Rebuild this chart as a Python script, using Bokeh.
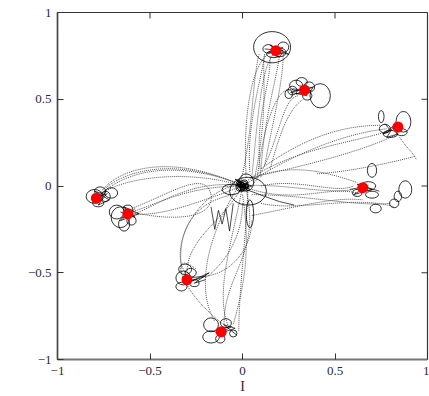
from bokeh.plotting import figure
from bokeh.models import FixedTicker, Label, Range1d
from bokeh.embed import file_html
from bokeh.resources import INLINE

# Constellation points (red)
const_I = [0.18, 0.335, 0.84, 0.65, -0.79, -0.62, -0.30, -0.115]
const_Q = [0.78, 0.553, 0.34, -0.01, -0.07, -0.16, -0.54, -0.84]

# Dotted transition trajectories (cubic Bezier: start, control0, control1, end)
traj_x0 = [0.02, 0.05, 0.10, -0.02, 0.10, 0.05, 0.08, 0.15,
           0.00, 0.05, 0.10, 0.85, 0.93,
           0.00, 0.05, 0.10, 0.05, 0.05,
           0.00, 0.00, 0.00, 0.00, -0.60, -0.17,
           0.00, -0.05, 0.00, -0.20,
           0.00, 0.00, -0.02, 0.03, -0.10, 0.06, 0.02,
           0.04, 0.12, 0.00, 0.05, 0.10, 0.00, 0.00, -0.05, 0.02]
traj_y0 = [0.05, 0.05, 0.10, -0.02, 0.05, 0.00, 0.05, 0.10,
           0.00, 0.05, 0.10, 0.28, 0.17,
           0.00, -0.02, 0.00, -0.05, -0.17,
           0.00, 0.00, 0.00, 0.00, -0.15, -0.05,
           0.00, -0.05, -0.10, -0.52,
           0.00, -0.05, 0.00, 0.00, -0.80, 0.02, 0.00,
           0.08, 0.12, 0.02, 0.05, -0.10, 0.00, 0.00, 0.00, -0.02]
traj_cx0 = [0.00, 0.08, 0.12, 0.06, 0.06, 0.20, 0.12, 0.20,
            0.30, 0.30, 0.30, 0.90, 0.75,
            0.20, 0.30, 0.30, 0.35, 0.30,
            -0.30, -0.30, -0.25, -0.30, -0.40, -0.20,
            -0.10, -0.30, 0.00, -0.05,
            -0.05, 0.05, -0.20, 0.02, -0.35, 0.15, -0.35,
            0.02, 0.16, 0.25, 0.35, 0.30, -0.30, -0.40, -0.25, 0.10]
traj_cy0 = [0.40, 0.35, 0.40, 0.30, 0.40, 0.20, 0.40, 0.30,
            0.20, 0.22, 0.25, 0.20, 0.12,
            0.02, -0.10, 0.05, -0.05, -0.12,
            0.15, 0.10, -0.10, 0.00, -0.20, 0.10,
            -0.20, -0.10, -0.30, -0.50,
            -0.30, -0.40, -0.30, -0.30, -0.60, 0.45, 0.15,
            0.35, 0.35, 0.15, 0.12, -0.15, 0.05, 0.20, -0.05, -0.40]
traj_cx1 = [0.05, 0.10, 0.18, 0.05, 0.15, 0.20, 0.20, 0.25,
            0.55, 0.60, 0.50, 0.92, 0.55,
            0.45, 0.45, 0.50, 0.60, 0.50,
            -0.60, -0.65, -0.45, -0.45, -0.15, -0.40,
            -0.30, -0.35, -0.10, 0.05,
            -0.15, 0.00, -0.25, -0.02, -0.40, 0.10, -0.60,
            0.10, 0.22, 0.45, 0.65, 0.60, -0.50, -0.70, -0.40, -0.10]
traj_cy1 = [0.70, 0.70, 0.60, 0.60, 0.55, 0.50, 0.60, 0.45,
            0.30, 0.25, 0.35, 0.20, 0.08,
            -0.05, 0.00, -0.05, -0.12, -0.06,
            0.12, 0.05, -0.18, -0.10, -0.20, -0.05,
            -0.30, -0.30, -0.45, -0.35,
            -0.60, -0.60, -0.60, -0.60, -0.35, 0.70, 0.10,
            0.60, 0.60, 0.08, 0.20, -0.05, -0.15, 0.10, -0.35, -0.50]
traj_x1 = [0.14, 0.17, 0.20, 0.09, 0.15, 0.30, 0.28, 0.33,
           0.78, 0.80, 0.75, 0.94, 0.40,
           0.60, 0.62, 0.60, 0.80, 0.65,
           -0.75, -0.77, -0.60, -0.60, -0.17, -0.60,
           -0.30, -0.33, -0.20, 0.05,
           -0.08, -0.05, -0.15, -0.02, -0.25, 0.12, -0.76,
           0.12, 0.22, 0.62, 0.84, 0.82, -0.62, -0.78, -0.31, -0.10]
traj_y1 = [0.76, 0.76, 0.75, 0.76, 0.75, 0.52, 0.55, 0.50,
           0.33, 0.32, 0.35, 0.15, 0.07,
           -0.02, -0.04, 0.00, -0.10, -0.08,
           -0.02, -0.05, -0.16, -0.15, -0.05, -0.13,
           -0.50, -0.48, -0.53, -0.20,
           -0.80, -0.80, -0.78, -0.84, -0.48, 0.76, -0.04,
           0.76, 0.76, 0.02, 0.30, -0.12, -0.17, -0.06, -0.50, -0.80]

# Solid loops (ellipses) around the symbols and the origin
loop_x = [0.16, 0.14, 0.20, 0.22, 0.17,
          0.42, 0.29, 0.32, 0.36, 0.35, 0.27, 0.25,
          0.87, 0.75, 0.77, 0.80, 0.86,
          0.70, 0.70, 0.72, 0.88, 0.84, 0.82, 0.62, 0.68,
          -0.80, -0.77, -0.71, -0.78, -0.74,
          -0.66, -0.68, -0.64, -0.60, -0.62,
          -0.32, -0.33, -0.28, -0.31, -0.26,
          -0.17, -0.17, -0.12, -0.09, -0.05,
          0.00, 0.01, -0.01, 0.02, 0.03, 0.04, -0.06,
          0.00, 0.01, -0.01, 0.00, 0.02, -0.02,
          -0.005, 0.005, 0.00, -0.01, 0.01]
loop_y = [0.80, 0.79, 0.77, 0.80, 0.76,
          0.52, 0.58, 0.60, 0.57, 0.52, 0.55, 0.53,
          0.37, 0.40, 0.33, 0.30, 0.31,
          0.09, -0.05, -0.13, -0.02, -0.06, -0.10, -0.04, 0.00,
          -0.06, -0.03, -0.04, -0.10, -0.06,
          -0.18, -0.15, -0.22, -0.20, -0.13,
          -0.53, -0.58, -0.50, -0.48, -0.56,
          -0.80, -0.87, -0.88, -0.79, -0.85,
          0.00, 0.01, -0.01, 0.02, -0.03, -0.16, -0.02,
          0.00, 0.00, 0.01, -0.01, 0.00, 0.02,
          0.005, -0.005, 0.01, 0.00, 0.00]
loop_w = [0.20, 0.06, 0.07, 0.06, 0.08,
          0.11, 0.07, 0.06, 0.06, 0.05, 0.05, 0.04,
          0.08, 0.03, 0.06, 0.08, 0.06,
          0.05, 0.07, 0.06, 0.07, 0.04, 0.05, 0.05, 0.08,
          0.09, 0.06, 0.07, 0.06, 0.05,
          0.10, 0.08, 0.06, 0.05, 0.05,
          0.08, 0.06, 0.06, 0.07, 0.05,
          0.08, 0.09, 0.05, 0.06, 0.04,
          0.06, 0.04, 0.05, 0.08, 0.20, 0.04, 0.10,
          0.03, 0.02, 0.035, 0.025, 0.03, 0.02,
          0.015, 0.02, 0.012, 0.025, 0.018]
loop_h = [0.18, 0.05, 0.05, 0.06, 0.04,
          0.14, 0.06, 0.05, 0.06, 0.05, 0.05, 0.05,
          0.12, 0.07, 0.05, 0.04, 0.04,
          0.08, 0.04, 0.05, 0.10, 0.06, 0.05, 0.04, 0.05,
          0.08, 0.05, 0.06, 0.04, 0.06,
          0.12, 0.08, 0.08, 0.05, 0.04,
          0.08, 0.05, 0.05, 0.06, 0.04,
          0.08, 0.07, 0.05, 0.05, 0.04,
          0.06, 0.05, 0.04, 0.10, 0.16, 0.16, 0.06,
          0.04, 0.03, 0.025, 0.035, 0.02, 0.03,
          0.02, 0.015, 0.03, 0.02, 0.025]

# Solid scribbles through the cluster centres and centre region
scrib_x = [[0.12, 0.22, 0.15, 0.25, 0.14, 0.22],
           [0.27, 0.37, 0.29, 0.38, 0.26, 0.35],
           [0.77, 0.80, 0.76, 0.82, 0.78, 0.84],
           [0.58, 0.68, 0.60, 0.70, 0.62, 0.74],
           [-0.82, -0.74, -0.80, -0.72, -0.78, -0.73],
           [-0.66, -0.58, -0.64, -0.56, -0.66, -0.58],
           [-0.30, -0.20, -0.28, -0.18, -0.26, -0.20],
           [-0.14, -0.06, -0.12, -0.04, -0.10, -0.03],
           [-0.04, 0.04, -0.03, 0.05, -0.02, 0.03, -0.04],
           [-0.17, -0.15, -0.13, -0.11, -0.09, -0.07, -0.05],
           [0.02, 0.12, 0.20, 0.28],
           [0.00, -0.04, 0.03, 0.02]]
scrib_y = [[0.79, 0.78, 0.81, 0.76, 0.77, 0.80],
           [0.56, 0.55, 0.53, 0.57, 0.54, 0.52],
           [0.36, 0.32, 0.30, 0.35, 0.28, 0.30],
           [-0.02, 0.00, -0.05, -0.02, 0.01, -0.03],
           [-0.08, -0.05, -0.03, -0.08, -0.11, -0.04],
           [-0.15, -0.18, -0.12, -0.16, -0.20, -0.13],
           [-0.53, -0.52, -0.55, -0.50, -0.56, -0.54],
           [-0.83, -0.81, -0.85, -0.82, -0.80, -0.86],
           [0.01, -0.02, 0.03, 0.00, -0.03, 0.02, 0.00],
           [-0.12, -0.25, -0.14, -0.22, -0.13, -0.26, -0.10],
           [-0.02, -0.06, -0.09, -0.11],
           [0.02, 0.04, -0.03, -0.02]]

tick_vals = [-1, -0.5, 0, 0.5, 1]
tick_text = {-1: "\u22121", -0.5: "\u22120.5", 0: "0", 0.5: "0.5", 1: "1"}

FRAME_W, FRAME_H = 370, 347
TICK_PX = 6

p = figure(frame_width=FRAME_W, frame_height=FRAME_H, output_backend="svg", toolbar_location=None,
           x_range=Range1d(-1, 1), y_range=Range1d(-1, 1),
           min_border_left=57, min_border_right=2, min_border_top=12, min_border_bottom=37)
p.background_fill_color = "white"
p.border_fill_color = "white"
p.grid.visible = False
p.outline_line_color = "#333333"
p.outline_line_width = 1.2

FONT = "Liberation Serif"
LBL = "#2a2a3a"
for ax in [p.xaxis[0], p.yaxis[0]]:
    ax.ticker = FixedTicker(ticks=tick_vals)
    ax.major_label_overrides = tick_text
    ax.major_tick_in = TICK_PX
    ax.major_tick_out = 0
    ax.minor_tick_line_color = None
    ax.axis_line_color = "#444444"
    ax.axis_line_width = 1.5
    ax.major_tick_line_color = "#333333"
    ax.major_label_text_font = FONT
    ax.major_label_text_font_size = "13px"
    ax.major_label_text_color = LBL
p.xaxis.axis_line_color = "#777777"
p.xaxis.axis_line_width = 2
p.xaxis.major_label_standoff = 7
p.yaxis.major_label_standoff = 6
p.xaxis.axis_label = "I"
p.xaxis.axis_label_text_font = FONT
p.xaxis.axis_label_text_font_style = "normal"
p.xaxis.axis_label_text_font_size = "14px"
p.xaxis.axis_label_text_color = LBL
p.xaxis.axis_label_standoff = 1

# mirrored inward ticks on the top and right edges of the frame
dy = TICK_PX * 2.0 / FRAME_H
dx = TICK_PX * 2.0 / FRAME_W
inner = tick_vals[1:-1]
p.segment(x0=inner, y0=[1] * len(inner), x1=inner, y1=[1 - dy] * len(inner),
          line_color="#333333", line_width=1)
p.segment(x0=[1] * len(inner), y0=inner, x1=[1 - dx] * len(inner), y1=inner,
          line_color="#333333", line_width=1)

p.add_layout(Label(x=-1.205, y=0, text="Q", text_font=FONT, text_font_size="14px",
                   text_color=LBL, text_align="center", text_baseline="middle"))

p.bezier(x0=traj_x0, y0=traj_y0, x1=traj_x1, y1=traj_y1,
         cx0=traj_cx0, cy0=traj_cy0, cx1=traj_cx1, cy1=traj_cy1,
         line_color="#555555", line_width=1, line_dash="1 1")
p.ellipse(x=loop_x, y=loop_y, width=loop_w, height=loop_h, fill_color=None,
          line_color="black", line_width=0.8)
p.multi_line(xs=scrib_x, ys=scrib_y, line_color="black", line_width=0.7)
p.scatter(x=const_I, y=const_Q, size=11, fill_color="red", line_color=None)

open("out.html", "w").write(file_html(p, INLINE))
